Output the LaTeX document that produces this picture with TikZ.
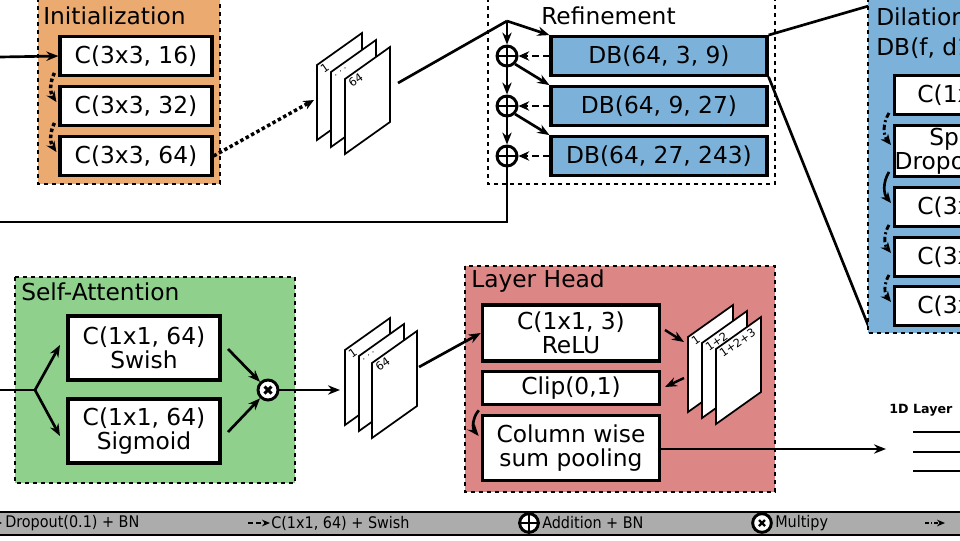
\documentclass[tikz,border=0pt]{standalone}
\usepackage{fontspec}
\setmainfont{DejaVu Sans}
\newfontfamily\condf{DejaVu Sans Condensed}
\usetikzlibrary{arrows.meta,calc}
\definecolor{orng}{RGB}{234,170,112}
\definecolor{blu}{RGB}{124,178,218}
\definecolor{grn}{RGB}{143,208,140}
\definecolor{rd}{RGB}{220,134,134}
\definecolor{lgd}{RGB}{172,172,172}
\newcommand\mysheet[3]{%
  \draw[line width=1.3pt,fill=white] (#1,#2) -- ++(0,-75) -- ++(45,-32) -- ++(0,75) -- cycle;
  \node[font=\fontsize{8.5}{8.5}\selectfont,rotate=35,anchor=north west,inner sep=0pt] at ($(#1,#2)+(2,-73)$) {#3};}
\begin{document}
\begin{tikzpicture}[x=0.75pt,y=-0.75pt,
  grp/.style={draw,dashed,line width=1.2pt},
  box/.style={draw,line width=2.4pt,fill=white,font=\fontsize{17.5}{18}\selectfont,align=center,inner sep=0pt},
  ttl/.style={font=\fontsize{17.5}{18}\selectfont,anchor=west,inner sep=0pt},
  arr/.style={line width=2pt,-{Stealth[length=9pt,width=7pt]}},
  dotarr/.style={line width=2.6pt,dotted,-{Stealth[length=8pt,width=7pt]}},
  dasharr/.style={line width=2.2pt,dash pattern=on 5pt off 3pt,-{Stealth[length=8pt,width=7pt]}},
  dotdash/.style={line width=2.2pt,dash pattern=on 4pt off 2pt on 1.5pt off 2pt,-{Stealth[length=8pt,width=7pt]}},
  op/.style={draw,circle,line width=2.2pt,minimum size=15pt,inner sep=0pt,fill=white},
]
\useasboundingbox (0,0) rectangle (960,540);
\clip (0,0) rectangle (960,540);
% Initialization
\draw[grp,fill=orng] (38,-2) rectangle (220,184);
\node[ttl] (tinit) at (43,16) {Initialization};
\node[box,minimum width=114pt,minimum height=29pt] (i1) at (136,56) {C(3x3, 16)};
\node[box,minimum width=114pt,minimum height=29pt] (i2) at (136,106) {C(3x3, 32)};
\node[box,minimum width=114pt,minimum height=29pt] (i3) at (136,156) {C(3x3, 64)};
\coordinate (in1) at (0,57);
\draw[arr] (in1) -- (i1.west);
\draw[dotarr] ($(i1.south west)+(-4,-4)$) to[bend right=30] ($(i2.west)+(-2,-4)$);
\draw[dotarr] ($(i2.south west)+(-4,-4)$) to[bend right=30] ($(i3.west)+(-2,-4)$);
% stack 1
\mysheet{317}{140}{1}
\mysheet{331}{147}{$\cdot\cdot\cdot$}
\mysheet{345}{154}{64}
\coordinate (s1in) at (314,100);
\coordinate (s1out) at (398,83);
\draw[dotarr] (i3.east) -- (s1in);
% Refinement
\draw[grp,fill=white] (488,-2) rectangle (775,184);
\node[ttl] (tref) at (541,16) {Refinement};
\node[box,fill=blu,minimum width=162pt,minimum height=29pt] (d1) at (659,56) {DB(64, 3, 9)};
\node[box,fill=blu,minimum width=162pt,minimum height=29pt] (d2) at (659,106) {DB(64, 9, 27)};
\node[box,fill=blu,minimum width=162pt,minimum height=29pt] (d3) at (659,156) {DB(64, 27, 243)};
\node[op] (p1) at (507,56) {};
\node[op] (p2) at (507,106) {};
\node[op] (p3) at (507,156) {};
\foreach \p in {p1,p2,p3}{\draw[line width=2pt] (\p.north)--(\p.south) (\p.west)--(\p.east);}
\coordinate (jr) at (507,21);
\draw[line width=2pt] (s1out) -- (jr);
\draw[arr] (jr) -- (p1);
\draw[arr] (jr) -- (d1.north west);
\draw[arr] (p1) -- (p2);
\draw[arr] (p2) -- (p3);
\draw[arr] (p1.south east) -- (d2.north west);
\draw[arr] (p2.south east) -- (d3.north west);
\foreach \d/\p in {d1/p1,d2/p2,d3/p3}{\draw[dasharr] (\d.west) -- (\p.east);}
\coordinate (rb) at (507,222);
\coordinate (rl) at (0,222);
\draw[line width=2pt] (p3.south) -- (rb) -- (rl);
% Dilation block
\draw[line width=2pt] (d1.north east) -- (872,5);
\draw[line width=2pt] (d1.south east) -- (870,330);
\draw[grp,fill=blu] (868,-2) rectangle (1000,333);
\node[font=\fontsize{17.5}{22}\selectfont,anchor=north west,align=left,inner sep=0pt] (tdil) at (876,8) {Dilation Block\\DB(f, d1, d2)};
\node[box,minimum width=110pt,minimum height=29pt,anchor=west] (b1) at (893,95) {C(1x1, f)};
\node[box,minimum width=110pt,minimum height=38pt,anchor=west] (b2) at (893,151) {Spatial\\Dropout(0.1)};
\node[box,minimum width=110pt,minimum height=29pt,anchor=west] (b3) at (893,207) {C(3x3, f)};
\node[box,minimum width=110pt,minimum height=29pt,anchor=west] (b4) at (893,257) {C(3x3, f)};
\node[box,minimum width=110pt,minimum height=29pt,anchor=west] (b5) at (893,306) {C(3x3, f)};
\draw[dotdash] ($(b1.south west)+(-4,-3)$) to[bend right=35] ($(b2.west)+(-2,-6)$);
\draw[line width=2pt,-{Stealth[length=8pt,width=7pt]}] ($(b2.south west)+(-4,-6)$) to[bend right=35] ($(b3.west)+(-2,-4)$);
\draw[dotdash] ($(b3.south west)+(-4,-3)$) to[bend right=35] ($(b4.west)+(-2,-4)$);
\draw[dotdash] ($(b4.south west)+(-4,-3)$) to[bend right=35] ($(b5.west)+(-2,-4)$);
% Self-Attention
\draw[grp,fill=grn] (15,277) rectangle (295,483);
\node[ttl] (tsa) at (21,292) {Self-Attention};
\node[box,minimum width=114pt,minimum height=48pt] (sw) at (144,348) {C(1x1, 64)\\Swish};
\node[box,minimum width=114pt,minimum height=48pt] (sg) at (144,431) {C(1x1, 64)\\Sigmoid};
\node[op] (mu) at (268,390) {};
\draw[line width=2.2pt] ($(mu)+(-3.5,-3.5)$)--($(mu)+(3.5,3.5)$) ($(mu)+(-3.5,3.5)$)--($(mu)+(3.5,-3.5)$);
\coordinate (in2) at (0,390);
\coordinate (js) at (35,390);
\draw[line width=2pt] (in2) -- (js);
\draw[arr] (js) -- (60,345);
\draw[arr] (js) -- (60,436);
\draw[arr] (228,349) -- (mu);
\draw[arr] (228,432) -- (mu);
% stack 2
\mysheet{345}{425}{1}
\mysheet{359}{431}{$\cdot\cdot\cdot$}
\mysheet{372}{438}{64}
\coordinate (s2in) at (340,390);
\coordinate (s2out) at (419,367);
\draw[arr] (mu) -- (s2in);
% Layer head
\draw[grp,fill=rd] (465,266) rectangle (775,492);
\node[ttl] (tlh) at (471,281) {Layer Head};
\node[box,minimum width=133pt,minimum height=42pt] (h1) at (571,333) {C(1x1, 3)\\ReLU};
\node[box,minimum width=133pt,minimum height=25pt] (h2) at (571,388) {Clip(0,1)};
\node[box,minimum width=133pt,minimum height=49pt] (h3) at (571,448) {Column wise\\sum pooling};
\draw[arr] (s2out) -- (h1.west);
\mysheet{688}{412}{1}
\mysheet{702}{418}{1+2}
\mysheet{716}{424}{1+2+3}
\coordinate (s3in) at (684,342);
\coordinate (s3out) at (684,378);
\draw[arr,line width=1.8pt] (665,330) -- (s3in);
\draw[arr,line width=1.8pt] (s3out) -- (665,387);
\draw[arr] ($(h2.south west)+(-2,4)$) to[bend right=40] ($(h3.west)+(-2,-12)$);
\coordinate (out) at (886,449);
\draw[line width=1.5pt,-{Stealth[length=9pt,width=7pt]}] (660,449) -- (out);
\node[font=\bfseries\fontsize{9.5}{10}\selectfont,anchor=west,inner sep=0pt] (t1d) at (889,410) {1D Layer};
\draw[line width=1.5pt] (913,432) -- (990,432) (913,452) -- (990,452) (913,471) -- (990,471);
% legend
\draw[line width=2pt,fill=lgd] (-5,512) rectangle (1000,535);
\begin{scope}[font=\condf\fontsize{12}{12}\selectfont]
\node[anchor=west,inner sep=0pt] (l1) at (5,523) {Dropout(0.1) + BN};
\draw[dotarr,line width=1.5pt] (-20,523) -- (2,523);
\coordinate (l2a) at (248,523);
\coordinate (l2b) at (270,523);
\draw[line width=1.8pt,dash pattern=on 4pt off 2pt,-{Stealth[length=6pt,width=5pt]}] (l2a) -- (l2b);
\node[anchor=west,inner sep=0pt] (l2) at (271,523) {C(1x1, 64) + Swish};
\node[op,minimum size=14pt,fill=white] (lp) at (529,523) {};
\draw[line width=1.8pt] (lp.north)--(lp.south) (lp.west)--(lp.east);
\node[anchor=west,inner sep=0pt] (l3) at (542,523) {Addition + BN};
\node[op,minimum size=14pt] (lm) at (762,523) {};
\draw[line width=1.8pt] ($(lm)+(-3,-3)$)--($(lm)+(3,3)$) ($(lm)+(-3,3)$)--($(lm)+(3,-3)$);
\node[anchor=west,inner sep=0pt] (l4) at (775,523) {Multipy};
\coordinate (l5a) at (925,523);
\coordinate (l5b) at (945,523);
\draw[line width=1.8pt,dash pattern=on 3pt off 1.5pt on 1pt off 1.5pt,-{Stealth[length=6pt,width=5pt]}] (l5a) -- (l5b);
\end{scope}
\end{tikzpicture}
\end{document}
